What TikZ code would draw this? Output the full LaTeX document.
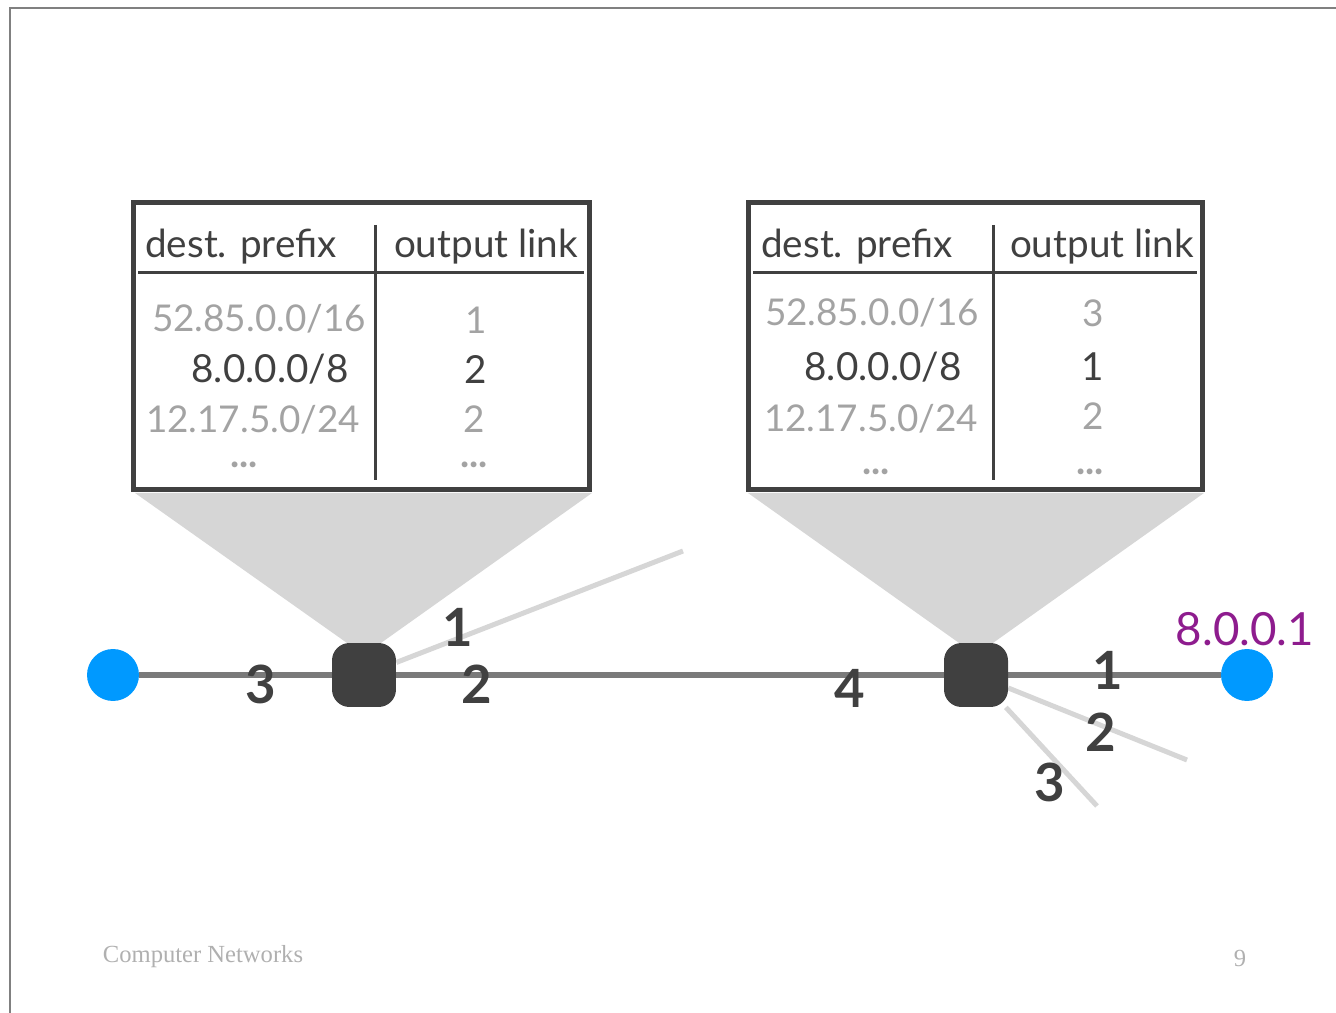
\documentclass[tikz,border=0pt]{standalone}
\usepackage{fontspec}
\setmainfont{Liberation Serif}
\newfontfamily\chalk{Lato}
\usetikzlibrary{backgrounds}
\definecolor{ink}{HTML}{404040}
\definecolor{faded}{HTML}{A3A3A3}
\definecolor{hostblue}{HTML}{0099FF}
\definecolor{funnel}{HTML}{D6D6D6}
\definecolor{wire}{HTML}{7A7A7A}
\definecolor{addr}{HTML}{8E1C8E}
\definecolor{footgray}{HTML}{B0B0B0}

\tikzset{
  router/.style={fill=ink, rounded corners=0.35cm, minimum size=1.28cm, inner sep=0pt},
  host/.style={circle, fill=hostblue, minimum size=1.04cm, inner sep=0pt},
  cell/.style={font=\chalk\fontsize{22}{24}\selectfont, text=ink, inner sep=0pt},
  old/.style={cell, font=\chalk\fontsize{21}{23}\selectfont, text=faded},
  more/.style={old, font=\chalk\bfseries\fontsize{22}{22}\selectfont},
  port/.style={font=\chalk\bfseries\fontsize{30}{32}\selectfont, text=ink, inner sep=0pt},
  mainlink/.style={draw=wire, line width=0.12cm},
  sidelink/.style={draw=funnel, line width=0.1cm},
  frame/.style={draw=ink, line width=0.1cm},
  rule/.style={draw=ink, line width=0.06cm},
}

\begin{document}
\begin{tikzpicture}[x=0.02cm,y=-0.02cm]
  \useasboundingbox (0,0) rectangle (1336,1013);
  \draw[gray, line width=0.6pt] (10,1013) -- (10,8) -- (1336,8);

  % hosts and routers
  \node[host] (hA) at (113,675) {};
  \node[host] (hB) at (1247,675) {};
  \node[router] (rA) at (364,675) {};
  \node[router] (rB) at (976,675) {};
  \coordinate (endA1) at (683,551);
  \coordinate (endB2) at (1187,760);
  \coordinate (endB3) at (1097,806);

  \begin{pgfonlayer}{background}
    \fill[funnel] (135,493) -- (592,493) -- ([yshift=0.4cm]rA.center) -- cycle;
    \fill[funnel] (748,493) -- (1204,493) -- ([yshift=0.4cm]rB.center) -- cycle;
    \draw[sidelink] (rA) -- (endA1);
    \draw[sidelink] (rB) -- (endB2);
    \draw[sidelink] (rB) -- (endB3);
    \draw[mainlink] (hA) -- (rA);
    \draw[mainlink] (rA) -- (rB);
    \draw[mainlink] (rB) -- (hB);
  \end{pgfonlayer}

  % forwarding table of router A
  \draw[frame] (133,203) rectangle (589,490);
  \draw[rule] (138,273) -- (584,273);
  \draw[rule] (375,225) -- (375,480);
  \node[cell] (tAh1) at (241,247) {dest. prefix};
  \node[cell] (tAh2) at (486,247) {output link};
  \node[old] (tAp1) at (259,319) {52.85.0.0/16};
  \node[old] (tAl1) at (476,320) {1};
  \node[cell] (tAp2) at (270,369) {8.0.0.0/8};
  \node[cell] (tAl2) at (476,369) {2};
  \node[old] (tAp3) at (253,420) {12.17.5.0/24};
  \node[old] (tAl3) at (474,419) {2};
  \node[more] (tAp4) at (244,465) {...};
  \node[more] (tAl4) at (474,465) {...};

  % forwarding table of router B
  \draw[frame] (748,203) rectangle (1202,490);
  \draw[rule] (753,273) -- (1197,273);
  \draw[rule] (993,225) -- (993,480);
  \node[cell] (tBh1) at (857,247) {dest. prefix};
  \node[cell] (tBh2) at (1102,247) {output link};
  \node[old] (tBp1) at (872,313) {52.85.0.0/16};
  \node[old] (tBl1) at (1093,313) {3};
  \node[cell] (tBp2) at (883,367) {8.0.0.0/8};
  \node[cell] (tBl2) at (1093,367) {1};
  \node[old] (tBp3) at (871,419) {12.17.5.0/24};
  \node[old] (tBl3) at (1093,416) {2};
  \node[more] (tBp4) at (876,472) {...};
  \node[more] (tBl4) at (1090,472) {...};

  % port numbers
  \node[port] (pA3) at (261,684) {3};
  \node[port] (pA2) at (477,684) {2};
  \node[port] (pA1) at (458,627) {1};
  \node[port] (pB4) at (850,688) {4};
  \node[port] (pB1) at (1108,670) {1};
  \node[port] (pB2) at (1101,732) {2};
  \node[port] (pB3) at (1050,782) {3};
  \node[font=\chalk\fontsize{26}{28}\selectfont, text=addr, inner sep=0pt] (dst) at (1245,629) {8.0.0.1};

  % footer
  \node[text=footgray, font=\fontsize{14}{16}\selectfont, inner sep=0pt] (foot) at (203,957) {Computer Networks};
  \node[text=footgray, font=\fontsize{14}{16}\selectfont, inner sep=0pt] (page) at (1240,958) {9};
\end{tikzpicture}
\end{document}
